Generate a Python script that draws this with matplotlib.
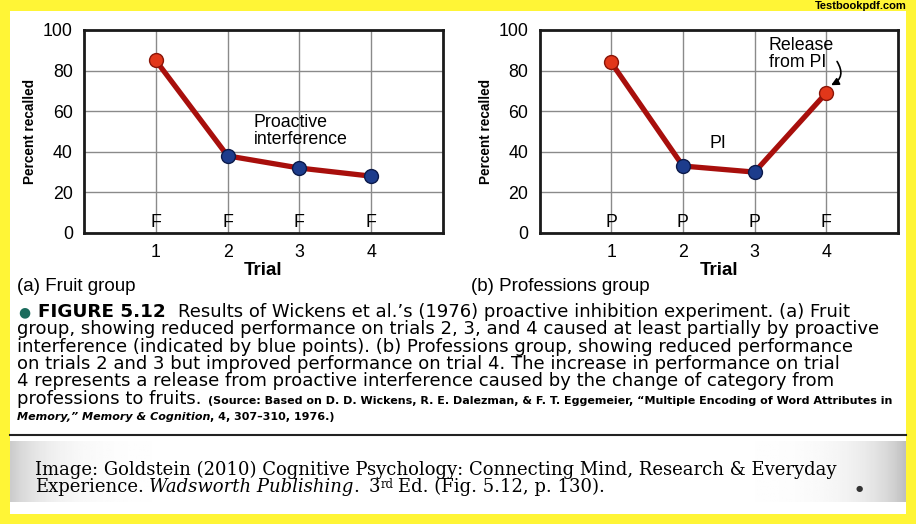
import numpy as np
import matplotlib
matplotlib.use("Agg")
import matplotlib.pyplot as plt

# datos de las dos graficas
trials = [1, 2, 3, 4]
fruit_recall = [85, 38, 32, 28]
fruit_letters = ["F", "F", "F", "F"]
fruit_pi = [False, True, True, True]
prof_recall = [84, 33, 30, 69]
prof_letters = ["P", "P", "P", "F"]
prof_pi = [False, True, True, False]
yticks = [0, 20, 40, 60, 80, 100]

W, H = 916, 524
YELLOW = "#fff536"
LINE_RED = "#a80f0c"
DOT_RED = "#e2371a"
DOT_BLUE = "#1d3c8c"

fig = plt.figure(figsize=(W / 100, H / 100), dpi=100, facecolor=YELLOW)

# hoja blanca
paper = fig.add_axes([10 / W, 1 - 514 / H, 896 / W, 503 / H])
paper.set_facecolor("white")
paper.set_xticks([])
paper.set_yticks([])
for s in paper.spines.values():
    s.set_visible(False)

SANS = ["Liberation Sans", "DejaVu Sans"]


def px(x, y):
    return x / W, 1 - y / H


def panel(rect, values, letters, pi, label, xlab):
    ax = fig.add_axes(rect)
    ax.set_facecolor("white")
    ax.set_xlim(0, 5)
    ax.set_ylim(0, 100)
    ax.set_xticks(trials)
    ax.set_yticks(yticks)
    ax.grid(True, color="#8a8a8a", linewidth=1.0)
    ax.tick_params(length=0, labelsize=12.8, pad=8)
    for t in ax.get_xticklabels() + ax.get_yticklabels():
        t.set_family(SANS)
    for s in ax.spines.values():
        s.set_linewidth(2)
        s.set_color("#1a1a1a")
    ax.plot(trials, values, color=LINE_RED, linewidth=3.8, zorder=3)
    for x, v, p in zip(trials, values, pi):
        ax.plot(x, v, "o", markersize=10, zorder=4,
                markerfacecolor=DOT_BLUE if p else DOT_RED,
                markeredgecolor="#0c1a4a" if p else "#8a1508", markeredgewidth=1)
    for x, l in zip(trials, letters):
        ax.text(x, 5, l, ha="center", va="center", fontsize=12.8, family=SANS)
    ax.set_ylabel("Percent recalled", fontsize=9.8, fontweight="heavy",
                  family=SANS, labelpad=4)
    ax.set_xlabel("Trial", fontsize=13.5, fontweight="heavy", family=SANS, labelpad=1)
    fig.text(*px(xlab, 291), label, fontsize=13.5, family=SANS, va="baseline")
    return ax


ax1 = panel([84 / W, 1 - 233 / H, 359 / W, 203 / H], fruit_recall, fruit_letters,
            fruit_pi, "(a) Fruit group", 17)
ax1.text(2.36, 50, "Proactive\ninterference", fontsize=12.8, family=SANS,
         ha="left", va="center", linespacing=1.0)

ax2 = panel([539.5 / W, 1 - 233 / H, 358.5 / W, 203 / H], prof_recall, prof_letters,
            prof_pi, "(b) Professions group", 471)
ax2.text(2.49, 44, "PI", fontsize=12.8, family=SANS, ha="center", va="center")
ax2.text(3.2, 88, "Release\nfrom PI", fontsize=12.8, family=SANS,
         ha="left", va="center", linespacing=1.0)
ax2.annotate("", xy=(4.05, 72.5), xytext=(4.15, 84.5),
             arrowprops=dict(arrowstyle="-|>", color="black", lw=1.2,
                             mutation_scale=11, shrinkA=0, shrinkB=1,
                             connectionstyle="arc3,rad=-0.55"))

fig.text(*px(907, 9), "Testbookpdf.com", fontsize=8, fontweight="bold",
         family=SANS, ha="right", va="baseline")

# texto del pie
renderer = fig.canvas.get_renderer()


def fit(s, kw, width):
    t = fig.text(0, 0, s, fontsize=10, **kw)
    w = t.get_window_extent(renderer).width
    t.remove()
    return 10 * width / w


def put(x, y, parts):
    fx, fy = px(x, y)
    for s, gap, kw in parts:
        fx += gap / W
        t = fig.text(fx, fy, s, va="baseline", **kw)
        fx += t.get_window_extent(renderer).width / W
    return fx * W


CAP = ["DejaVu Sans"]
caption_lines = [
    "group, showing reduced performance on trials 2, 3, and 4 caused at least partially by proactive",
    "interference (indicated by blue points). (b) Professions group, showing reduced performance",
    "on trials 2 and 3 but improved performance on trial 4. The increase in performance on trial",
    "4 represents a release from proactive interference caused by the change of category from",
]
source_text = ("(Source: Based on D. D. Wickens, R. E. Dalezman, & F. T. Eggemeier, "
               "\u201cMultiple Encoding of Word Attributes in")
cap = dict(fontsize=fit(caption_lines[0], dict(family=CAP), 858), family=CAP)
head = dict(fontsize=fit("FIGURE 5.12", dict(family=CAP, fontweight="bold"), 128),
            family=CAP, fontweight="bold")
small = dict(family=CAP, fontweight="bold")
small["fontsize"] = fit(source_text, small, 683)

fig.text(*px(24, 312), "\u25cf", color="#1a6b5c", fontsize=10, va="center",
         ha="center", family=["DejaVu Sans"])
put(38, 317, [("FIGURE 5.12", 0, head),
              ("Results of Wickens et al.\u2019s (1976) proactive inhibition experiment. (a) Fruit",
               12, cap)])
for i, line in enumerate(caption_lines):
    put(17, 334.5 + i * 17.3, [(line, 0, cap)])
put(17, 403.5, [("professions to fruits.", 0, cap), (source_text, 6, small)])
put(17, 420, [("Memory,\u201d Memory & Cognition", 0, dict(small, style="italic")),
              (", 4, 307\u2013310, 1976.)", 0, small)])

fig.add_artist(plt.Line2D([10 / W, 906 / W], [1 - 435 / H, 1 - 435 / H],
                          color="#222222", linewidth=1.5))

# recuadro gris con degradado
box = fig.add_axes([10 / W, 1 - 502 / H, 896 / W, 61 / H])
xx = np.linspace(0, 1, 400)
shade = np.clip(1 - 0.2 * np.exp(-xx / 0.04) - 0.25 * np.exp(-(1 - xx) / 0.04), 0, 1)
box.imshow(np.tile(shade, (10, 1)), cmap="gray", vmin=0, vmax=1, aspect="auto",
           extent=[0, 1, 0, 1])
box.set_axis_off()

SERIF = ["DejaVu Serif"]
line_a = "Image: Goldstein (2010) Cognitive Psychology: Connecting Mind, Research & Everyday"
ser = dict(fontsize=fit(line_a, dict(family=SERIF), 801), family=SERIF)
put(35, 475, [(line_a, 0, ser)])
x_end = put(35, 492.5, [("Experience.", 0, ser),
                        ("Wadsworth Publishing", 5, dict(ser, style="italic")),
                        (".", 0, ser),
                        ("3", 9, ser)])
x_end = put(x_end + 1, 487.5, [("rd", 0, dict(family=SERIF, fontsize=ser["fontsize"] * 0.65))])
put(x_end + 4, 492.5, [("Ed. (Fig. 5.12, p. 130).", 0, ser)])

fig.text(*px(859, 489), "\u25cf", fontsize=6, color="#333333", ha="center",
         va="center", family=["DejaVu Sans"])

fig.savefig("out.png", dpi=100, facecolor=YELLOW)
